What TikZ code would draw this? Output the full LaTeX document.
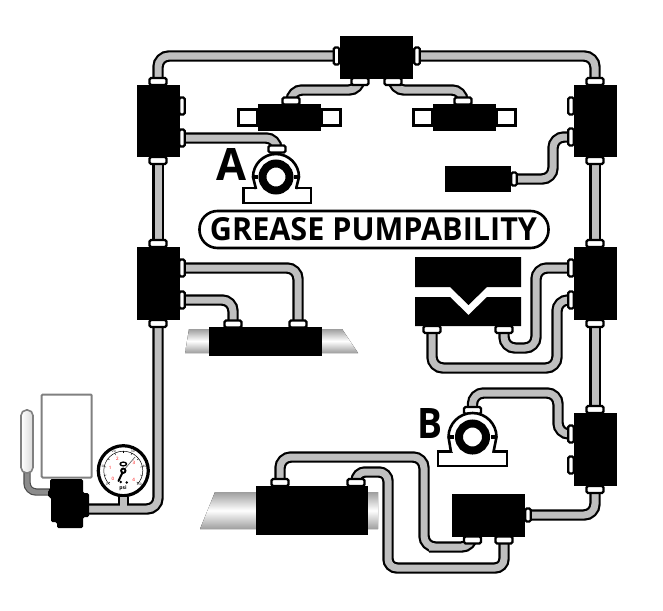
\documentclass[tikz,border=0pt]{standalone}
\usepackage{fontspec}
\setmainfont{Open Sans}
\usetikzlibrary{calc}
\definecolor{pipegray}{gray}{0.75}
\tikzset{
  pipe/.style={draw=black,line width=2.2pt,double=pipegray,double distance=7pt,rounded corners=11pt},
  blk/.style={fill=black,draw=none,inner sep=0pt,outer sep=0pt},
  fitstyle/.style={draw=black,fill=white,line width=2.2pt,rounded corners=1.5pt},
  sidebox/.style={draw=black,fill=white,line width=3pt,inner sep=0pt,minimum width=19pt,minimum height=16pt},
  shaft/.style={top color=black!38,bottom color=black!38,middle color=white,draw=none},
  bear/.style={draw=black,fill=white,line width=2.6pt},
  bigl/.style={inner sep=0pt,outer sep=0pt},
  gtick/.style={black,line width=0.4pt},
}
\begin{document}
\begin{tikzpicture}[x=1pt,y=-1pt]
\useasboundingbox (0,0) rectangle (663,610);
% shafts
\fill[shaft] (189,329) -- (342,329) -- (358,353) -- (185,353) -- cycle;
\fill[shaft] (215,492) -- (378,492) -- (378,529) -- (200,529) -- cycle;
% fitting positions
\coordinate (lbAt) at (158,81.5);
\coordinate (lbAb) at (158,160.5);
\coordinate (lbAr1) at (182,106);
\coordinate (lbAr2) at (182,138);
\coordinate (lbBt) at (158,243.5);
\coordinate (lbBb) at (158,323.5);
\coordinate (lbBr1) at (182,268);
\coordinate (lbBr2) at (182,300);
\coordinate (rbAt) at (595,81.5);
\coordinate (rbAb) at (595,160.5);
\coordinate (rbAl1) at (571,106);
\coordinate (rbAl2) at (571,137);
\coordinate (rbBt) at (595,243.5);
\coordinate (rbBb) at (595,323.5);
\coordinate (rbBl1) at (571,268);
\coordinate (rbBl2) at (571,300);
\coordinate (rbCt) at (595,409.5);
\coordinate (rbCb) at (595,489.5);
\coordinate (rbCl1) at (571,434);
\coordinate (rbCl2) at (571,465);
\coordinate (topl) at (336.5,56);
\coordinate (topr) at (417,56);
\coordinate (topb1) at (360,81.5);
\coordinate (topb2) at (393,81.5);
\coordinate (actAt) at (291,101);
\coordinate (actBt) at (463,101);
\coordinate (cylr) at (514,179);
\coordinate (brgAt) at (277,149);
\coordinate (brgBt) at (472.5,410.5);
\coordinate (tool1) at (432,329.5);
\coordinate (tool2) at (504,329.5);
\coordinate (sh1) at (233,324);
\coordinate (sh2) at (298,324);
\coordinate (bs1) at (280,482.5);
\coordinate (bs2) at (356,482.5);
\coordinate (sb1) at (472.5,540);
\coordinate (sb2) at (504,540);
\coordinate (sbr) at (528,515);
\coordinate (pumpout) at (83,509);
\node[circle,draw=black,fill=white,line width=3.2pt,minimum size=50pt,inner sep=0pt] (gauge) at (123.3,470.7) {};
% pipes
\draw[pipe] (gauge.south) -- (gauge.south |- pumpout);
\draw[pipe] (lbAb) -- (lbBt);
\draw[pipe] (lbBb) |- (pumpout);
\fill[pipegray] (119.8,497) rectangle (126.8,507);
\draw[pipe] (rbAb) -- (rbBt);
\draw[pipe] (rbBb) -- (rbCt);
\draw[pipe] (topl) -| (lbAt);
\draw[pipe] (topr) -| (rbAt);
\draw[pipe] (topb1) |- ($(actAt)+(0,-11)$) -- (actAt);
\draw[pipe] (topb2) |- ($(actBt)+(0,-11)$) -- (actBt);
\draw[pipe] (lbAr2) -| (brgAt);
\draw[pipe] (lbBr1) -| (sh2);
\draw[pipe] (lbBr2) -| (sh1);
\draw[pipe] (cylr) -- (553,179) |- (rbAl2);
\draw[pipe] (tool1) |- (557,368) |- (rbBl2);
\draw[pipe] (tool2) |- (536,348) |- (rbBl1);
\draw[pipe] (brgBt) |- (558,393) |- (rbCl1);
\draw[pipe] (bs1) |- (424,457) |- (440,547) -| (sb1);
\draw[pipe,rounded corners=9pt] (bs2) |- (388,472) |- (420,568) -| (sb2);
\draw[pipe] (sbr) -| (rbCb);
% fittings
\foreach \f in {lbAt,lbAb,lbBt,lbBb,rbAt,rbAb,rbBt,rbBb,rbCt,rbCb,topb1,topb2,actAt,actBt,brgAt,brgBt,tool1,tool2,sh1,sh2,bs1,bs2,sb1,sb2}{
  \draw[fitstyle] ($(\f)+(-8.5,-3.5)$) rectangle ($(\f)+(8.5,3.5)$);
}
\foreach \f in {lbAr1,lbAr2,lbBr1,lbBr2,rbAl1,rbAl2,rbBl1,rbBl2,rbCl1,rbCl2,topl,topr}{
  \draw[fitstyle] ($(\f)+(-2.8,-8.5)$) rectangle ($(\f)+(2.8,8.5)$);
}
\foreach \f in {cylr,sbr}{
  \draw[fitstyle] ($(\f)+(-2.8,-6.5)$) rectangle ($(\f)+(2.8,6.5)$);
}
% distribution blocks
\node[blk,minimum width=43pt,minimum height=72pt] (lbA) at (158,121) {};
\node[blk,minimum width=43pt,minimum height=73pt] (lbB) at (158,283.5) {};
\node[blk,minimum width=43pt,minimum height=72pt] (rbA) at (595.5,121) {};
\node[blk,minimum width=43pt,minimum height=73pt] (rbB) at (595.5,283.5) {};
\node[blk,minimum width=43pt,minimum height=73pt] (rbC) at (595.5,449.5) {};
\node[blk,minimum width=73pt,minimum height=43pt] (top) at (376.5,57.5) {};
% actuators
\node[sidebox] (actAl) at (248,117.5) {};
\node[sidebox] (actAr) at (331,117.5) {};
\node[blk,minimum width=63pt,minimum height=27pt] (actA) at (289.5,117.5) {};
\node[sidebox] (actBl) at (423,117.5) {};
\node[sidebox] (actBr) at (505.5,117.5) {};
\node[blk,minimum width=63pt,minimum height=27pt] (actB) at (464.5,117.5) {};
\node[blk,minimum width=66pt,minimum height=26pt] (cyl) at (478,179) {};
\node[blk,minimum width=113pt,minimum height=29pt] (shB) at (265.5,341.5) {};
\node[blk,minimum width=112pt,minimum height=49pt] (shC) at (312,510.5) {};
\node[blk,minimum width=73pt,minimum height=43pt] (sblk) at (488.5,515.5) {};
% press tool
\fill[black] (415,257) -- (521,257) -- (521,287) -- (487,287) -- (468.5,305) -- (450,287) -- (415,287) -- cycle;
\fill[black] (415,297) -- (450,297) -- (468.5,315) -- (487,297) -- (521,297) -- (521,326) -- (415,326) -- cycle;
% bearing A
\draw[bear] (243.5,188) rectangle (311,203);
\draw[bear] (256,189) -- (253,177) arc[start angle=180,end angle=360,radius=23] -- (296,189);
\fill[white] (257.5,186) rectangle (294.5,190);
\node[circle,draw=black,line width=8pt,fill=white,minimum size=27pt,inner sep=0pt] (brgA) at (276,177) {};
\fill[black] (252,175) rectangle (258,179);
\fill[black] (294,175) rectangle (300,179);
% bearing B
\draw[bear] (438,451.5) rectangle (507,466);
\draw[bear] (451,452) -- (448.5,437) arc[start angle=180,end angle=360,radius=24] -- (493.5,452);
\fill[white] (452.5,449.5) rectangle (492,453);
\node[circle,draw=black,line width=8pt,fill=white,minimum size=27pt,inner sep=0pt] (brgB) at (472.5,437) {};
\fill[black] (448,435) rectangle (454,439);
\fill[black] (491,435) rectangle (497,439);
% labels
\node[bigl] (labA) at (231,164.5) {\resizebox{30pt}{32pt}{\textbf{A}}};
\node[bigl] (labB) at (429.5,423) {\resizebox{25pt}{30pt}{\textbf{B}}};
\node[draw=black,line width=2.6pt,fill=white,rounded corners=18pt,minimum width=349pt,minimum height=37pt,inner sep=0pt] (pill) at (374,229.5) {};
\node[bigl] (title) at (373.5,229) {\resizebox{327pt}{23pt}{\textbf{GREASE PUMPABILITY}}};
% reservoir
\node[draw=black!50,line width=2pt,fill=white,rounded corners=1pt,minimum width=50pt,minimum height=83pt,inner sep=0pt] (res) at (66.7,436) {};
\coordinate (tubeend) at (52,492);
\draw[draw=black!70,line width=1.2pt,double=black!45,double distance=5pt,rounded corners=9pt] (27,472) |- (tubeend);
\node[draw=black!50,line width=1.6pt,left color=white,right color=black!15,rounded corners=5.5pt,minimum width=12pt,minimum height=63pt,inner sep=0pt] (tube) at (27,441.5) {};
% pump
\fill[black,rounded corners=1.5pt] (50,479) -- (83,479) -- (83,493) -- (89,493) -- (89,517) -- (83,517) -- (83,528) -- (57,528) -- (57,522) -- (51,522) -- (51,497) -- (48,497) -- (48,490) -- (50,490) -- cycle;
% gauge face
\draw[black,line width=0.5pt] (gauge.center) ++(135:19.5) arc[start angle=135,end angle=405,radius=19.5];
\foreach \a in {-130,-104,-78,-52,-26,0,26,52,78,104,130}{
  \draw[gtick] ($(gauge.center)+({\a-90}:17.5)$) -- ($(gauge.center)+({\a-90}:19.5)$);
}
\foreach \a/\t in {-130/0,-78/1,-26/2,52/3,130/4}{
  \node[text=red,inner sep=0pt,font=\fontsize{4.5}{4.5}\selectfont] at ($(gauge.center)+({\a-90}:13.5)$) {\t};
}
\foreach \a/\t in {-130/0,-78/10,-26/20,26/30,78/40,130/50}{
  \node[text=black,inner sep=0pt,font=\fontsize{3.2}{3.2}\selectfont] at ($(gauge.center)+({\a-90}:21.7)$) {\t};
}
\fill[black] (123.3,464) ellipse[x radius=4,y radius=2.6];
\fill[white] (123.3,464) ellipse[x radius=2.2,y radius=1];
\fill[black] (120.7,482) circle[radius=1.4];
\fill[black] (126.7,482.5) circle[radius=1.4];
\node[inner sep=0pt,font=\fontsize{5}{5}\selectfont\bfseries] at (123,488.5) {psi};
\draw[black!60,line width=0.7pt] (gauge.center) -- (135,457);
\draw[black,line width=2pt,line cap=round] (118.5,481) -- (gauge.center);
\fill[black] (gauge.center) circle[radius=3.2];
\fill[white] (gauge.center) circle[radius=1.1];
\end{tikzpicture}
\end{document}
